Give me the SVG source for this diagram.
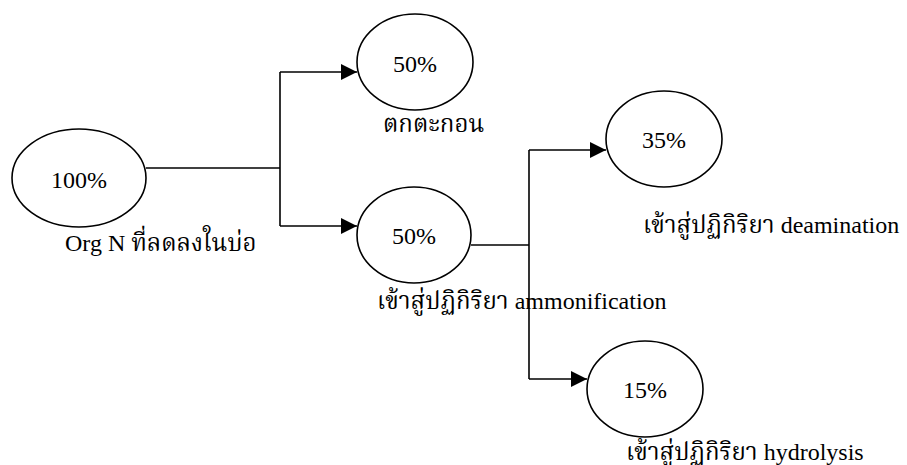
<svg xmlns="http://www.w3.org/2000/svg" width="907" height="465" viewBox="0 0 907 465">
  <style>
    .node ellipse { fill: #ffffff; stroke: #000000; stroke-width: 1.6; }
    .pct { font-family: "Liberation Serif", "Times New Roman", serif; font-size: 24px; fill: #000; text-anchor: middle; }
    .lbl { font-family: "Liberation Serif", "Norasi", "Noto Serif Thai", "Noto Sans Thai", "DejaVu Sans", serif; font-size: 24px; fill: #000; }
    .edge { fill: none; stroke: #000000; stroke-width: 1.6; }
  </style>
  <defs>
    <marker id="arrow" markerUnits="userSpaceOnUse" markerWidth="16" markerHeight="16" viewBox="0 0 16 16" refX="16" refY="8" orient="auto">
      <path d="M0,0 L16,8 L0,16 Z" fill="#000000"/>
    </marker>
  </defs>
  <rect width="907" height="465" fill="#ffffff"/>

  <!-- connectors: split from the source node, then elbow into each target -->
  <g id="connectors">
    <path class="edge" d="M146,168 H280"/>
    <path class="edge" d="M280,72 V226"/>
    <path class="edge" d="M280,72 H357" marker-end="url(#arrow)"/>
    <path class="edge" d="M280,226 H357" marker-end="url(#arrow)"/>
    <path class="edge" d="M471,245 H529"/>
    <path class="edge" d="M529,150 V379"/>
    <path class="edge" d="M529,150 H606" marker-end="url(#arrow)"/>
    <path class="edge" d="M529,379 H587" marker-end="url(#arrow)"/>
  </g>

  <g id="node-total" class="node">
    <ellipse cx="79" cy="178" rx="67" ry="49"/>
    <text class="pct" x="79" y="188">100%</text>
    <text class="lbl" x="65" y="251">Org N ที่ลดลงในบ่อ</text>
  </g>

  <g id="node-settle" class="node">
    <ellipse cx="415" cy="62" rx="58" ry="48"/>
    <text class="pct" x="415" y="72">50%</text>
    <text class="lbl" x="383" y="132">ตกตะกอน</text>
  </g>

  <g id="node-ammonification" class="node">
    <ellipse cx="414" cy="235" rx="57" ry="48"/>
    <text class="pct" x="414" y="244">50%</text>
    <text class="lbl" x="377" y="309">เข้าสู่ปฏิกิริยา ammonification</text>
  </g>

  <g id="node-deamination" class="node">
    <ellipse cx="664" cy="139" rx="58" ry="48"/>
    <text class="pct" x="664" y="148">35%</text>
    <text class="lbl" x="643" y="233">เข้าสู่ปฏิกิริยา deamination</text>
  </g>

  <g id="node-hydrolysis" class="node">
    <ellipse cx="645" cy="389" rx="58" ry="48"/>
    <text class="pct" x="645" y="398">15%</text>
    <text class="lbl" x="626" y="460">เข้าสู่ปฏิกิริยา hydrolysis</text>
  </g>
</svg>
